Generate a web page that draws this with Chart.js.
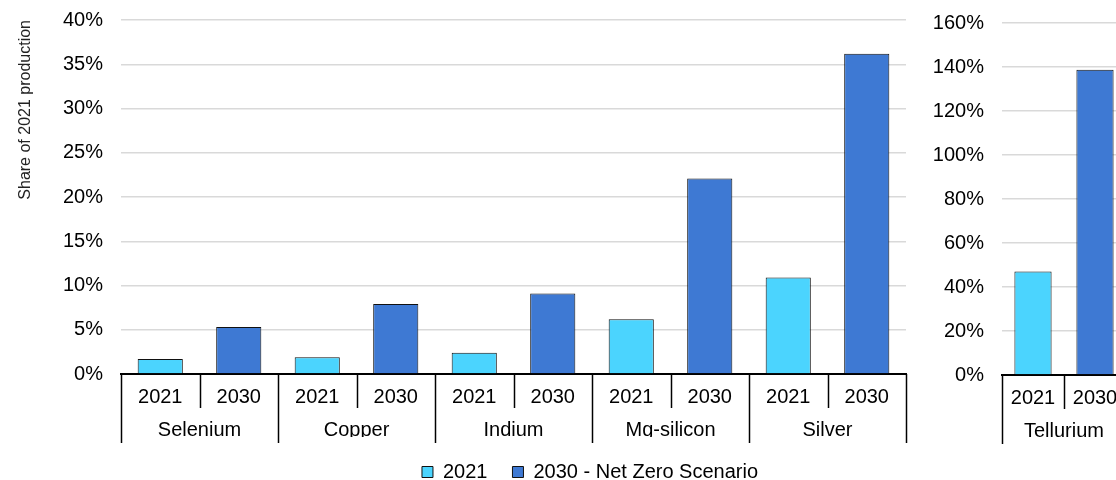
<!DOCTYPE html>
<html>
<head>
<meta charset="utf-8">
<script src="https://cdn.jsdelivr.net/npm/chart.js@4/dist/chart.umd.min.js"></script>
<style>
    body { margin: 0; width: 1116px; height: 480px; overflow: hidden; background: #fff; position: relative; }
    #mainChart { position: absolute; left: 0; top: 0; }
    #sideChart { position: absolute; left: 920px; top: 0; }
</style>
</head>
<body>
<canvas id="mainChart" width="1180" height="480"></canvas>
<canvas id="sideChart" width="220" height="480"></canvas>
<script>
// left panel
const minerals = ['Selenium', 'Copper', 'Indium', 'Mg-silicon', 'Silver'];
const share2021 = [1.7, 1.9, 2.4, 6.2, 10.9];
const share2030 = [5.3, 7.9, 9.1, 22.1, 36.2];

// right panel (own scale)
const sideMinerals = ['Tellurium'];
const side2021 = [47.1];
const side2030 = [138.8];

const years = ['2021', '2030'];
const seriesNames = ['2021', '2030 - Net Zero Scenario'];

const COLOR_2021 = '#4bd4fe';
const COLOR_2030 = '#3e79d3';
const FONT = '"Liberation Sans", Arial, sans-serif';

Chart.defaults.font.family = FONT;
Chart.defaults.color = '#000';

// year labels repeated under every mineral, bars sit on their own year slot
function buildTable(groups, a, b) {
    const labels = [], first = [], second = [];
    groups.forEach((g, i) => {
        labels.push(years[0], years[1]);
        first.push(a[i], null);
        second.push(null, b[i]);
    });
    return { labels, first, second };
}

// excel-like separators for the two-level category axis
const separators = {
    id: 'separators',
    afterDraw(chart) {
        const { ctx, scales: { x } } = chart;
        const n = x.ticks.length;
        ctx.save();
        ctx.strokeStyle = '#000';
        ctx.lineWidth = 1.5;
        for (let i = 0; i <= n; i++) {
            let px;
            if (i === 0) px = x.left;
            else if (i === n) px = x.right;
            else px = (x.getPixelForTick(i - 1) + x.getPixelForTick(i)) / 2;
            const end = i % 2 === 0 ? x.bottom + 35 : x.bottom;
            ctx.beginPath();
            ctx.moveTo(Math.round(px) + 0.5, x.top);
            ctx.lineTo(Math.round(px) + 0.5, end);
            ctx.stroke();
        }
        ctx.restore();
    }
};

function makeChart(canvasId, groups, a, b, opts) {
    const t = buildTable(groups, a, b);
    const ctx = document.getElementById(canvasId).getContext('2d');

    const scales = {
        x: {
            type: 'category',
            labels: t.labels,
            offset: true,
            grid: { display: false, drawTicks: false },
            border: { display: true, color: '#000', width: 2 },
            ticks: { font: { size: 20 }, padding: 11, maxRotation: 0, autoSkip: false },
            afterFit(scale) { scale.height = 34; }
        },
        x2: {
            type: 'category',
            labels: groups,
            position: 'bottom',
            offset: true,
            grid: { display: false, drawTicks: false },
            border: { display: false },
            ticks: { font: { size: 20 }, padding: 10, maxRotation: 0, autoSkip: false },
            afterFit(scale) { scale.height = opts.groupAxisHeight; }
        },
        y: {
            min: 0,
            max: opts.max,
            // invisible tick marks keep the label gap without padding the top
            grid: { color: '#d9d9d9', lineWidth: 1.5, drawTicks: true, tickLength: 15, tickColor: 'rgba(0,0,0,0)' },
            border: { display: false },
            ticks: {
                stepSize: opts.step,
                padding: 3,
                font: { size: 20 },
                callback: (v) => v + '%'
            },
            title: {
                display: !!opts.title,
                text: opts.title || '',
                align: 'end',
                color: '#222',
                font: { size: 16 },
                padding: { top: 16, bottom: 0 }
            },
            afterFit(scale) { scale.width = opts.yWidth; }
        }
    };

    if (opts.spacer) {
        scales.spacer = {
            type: 'linear',
            position: 'right',
            display: true,
            grid: { display: false, drawTicks: false },
            border: { display: false },
            ticks: { display: false },
            afterFit(scale) { scale.width = opts.spacer; }
        };
    }

    return new Chart(ctx, {
        type: 'bar',
        data: {
            labels: t.labels,
            datasets: [{
                label: seriesNames[0],
                data: t.first,
                backgroundColor: COLOR_2021,
                borderColor: '#111',
                borderWidth: 1,
                grouped: false,
                categoryPercentage: 1,
                barPercentage: opts.barPct
            }, {
                label: seriesNames[1],
                data: t.second,
                backgroundColor: COLOR_2030,
                borderColor: '#111',
                borderWidth: 1,
                grouped: false,
                categoryPercentage: 1,
                barPercentage: opts.barPct
            }]
        },
        options: {
            responsive: false,
            devicePixelRatio: 1,
            animation: false,
            layout: { padding: opts.padding },
            plugins: {
                legend: {
                    display: !!opts.legend,
                    position: 'bottom',
                    labels: {
                        boxWidth: 11,
                        boxHeight: 11,
                        padding: 25,
                        color: '#000',
                        font: { size: 20 }
                    }
                },
                tooltip: { enabled: false }
            },
            scales: scales
        },
        plugins: [separators]
    });
}

makeChart('mainChart', minerals, share2021, share2030, {
    max: 40, step: 5,
    title: 'Share of 2021 production',
    yWidth: 121,
    spacer: 274,
    barPct: 0.575,
    groupAxisHeight: 29,
    legend: true,
    padding: { top: 20, left: 0, right: 0, bottom: -12 }
});

makeChart('sideChart', sideMinerals, side2021, side2030, {
    max: 160, step: 20,
    yWidth: 82,
    barPct: 0.6,
    groupAxisHeight: 40,
    legend: false,
    padding: { top: 23, left: 0, right: 14, bottom: 31 }
});
</script>
</body>
</html>
